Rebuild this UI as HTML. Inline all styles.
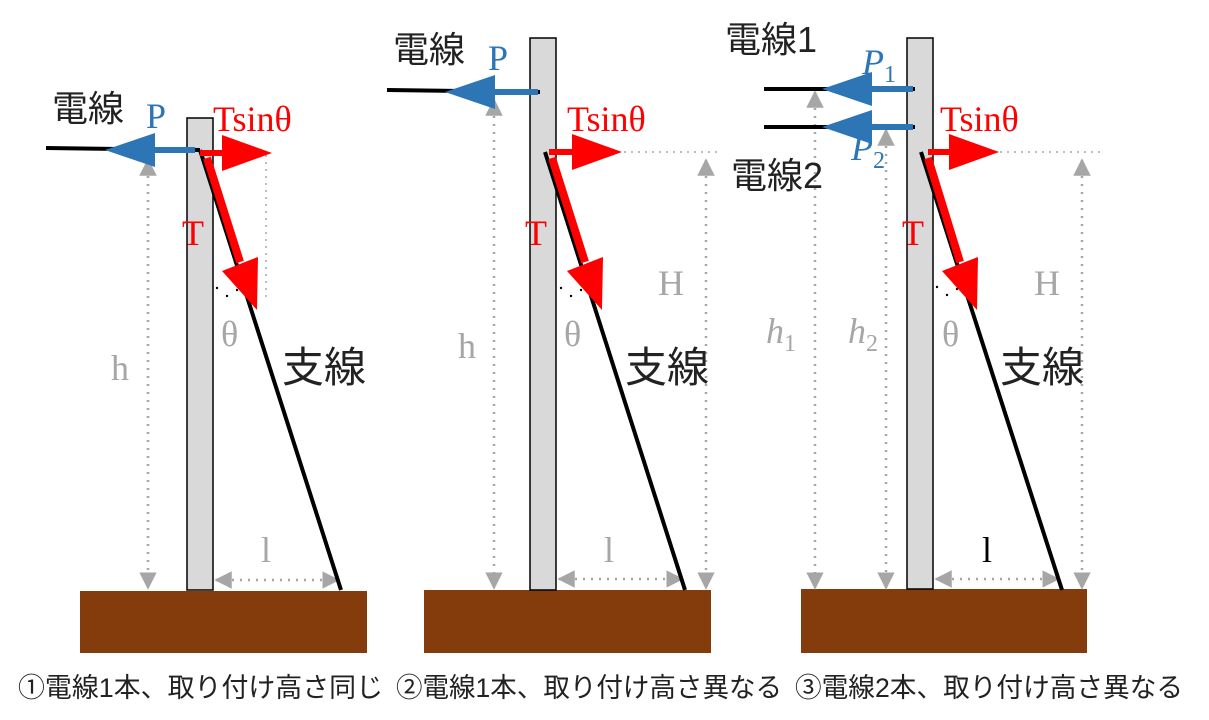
<!DOCTYPE html>
<html><head><meta charset="utf-8"><style>
html,body{margin:0;padding:0;background:#fff}
svg{display:block}
.jp{font-family:"Liberation Sans","Noto Sans CJK JP",sans-serif}
.sr{font-family:"Liberation Serif","Noto Serif CJK SC",serif}
</style></head><body>
<svg width="1209" height="720" viewBox="0 0 1209 720" xmlns="http://www.w3.org/2000/svg">
<defs>
<marker id="ga" viewBox="0 0 10 10" refX="9" refY="5" markerWidth="7" markerHeight="7" orient="auto-start-reverse"><path d="M0,0L10,5L0,10z" fill="#a6a6a6"/></marker>
</defs>
<g fill="#843C0C">
<rect x="80" y="591" width="287" height="62"/>
<rect x="424" y="590" width="287" height="63"/>
<rect x="801" y="589" width="286" height="64"/>
</g>
<g fill="#d9d9d9" stroke="#000" stroke-width="1.5">
<rect x="187" y="118" width="26" height="472"/>
<rect x="530" y="38" width="26" height="552"/>
<rect x="907" y="38" width="26" height="551"/>
</g>
<g stroke="#a6a6a6" stroke-width="2.5" stroke-dasharray="2 6" fill="none" marker-start="url(#ga)" marker-end="url(#ga)">
<line x1="148" y1="160" x2="148" y2="588"/>
<line x1="216" y1="580" x2="338" y2="580"/>
<line x1="494" y1="100" x2="494" y2="588"/>
<line x1="706" y1="160" x2="706" y2="588"/>
<line x1="559" y1="579" x2="682" y2="579"/>
<line x1="815" y1="92" x2="815" y2="588"/>
<line x1="886" y1="130" x2="886" y2="588"/>
<line x1="1082" y1="160" x2="1082" y2="588"/>
<line x1="936" y1="579" x2="1058" y2="579"/>
</g>
<g stroke="#a6a6a6" stroke-width="1.5" stroke-dasharray="2 5">
<line x1="266" y1="155" x2="266" y2="300"/>
<line x1="610" y1="152" x2="720" y2="152"/>
<line x1="1000" y1="152" x2="1100" y2="152"/>
</g>
<g stroke="#000" stroke-width="4">
<line x1="46" y1="148" x2="200" y2="150"/>
<line x1="200" y1="150" x2="341" y2="590"/>
<line x1="387" y1="90" x2="540" y2="92"/>
<line x1="545" y1="152" x2="685" y2="590"/>
<line x1="764" y1="89" x2="915" y2="89"/>
<line x1="764" y1="127" x2="915" y2="127"/>
<line x1="921" y1="152" x2="1062" y2="590"/>
</g>
<g fill="#000"><circle cx="217" cy="288" r="1.2"/><circle cx="227" cy="296" r="1.2"/><circle cx="237" cy="290" r="1.2"/>
<circle cx="561" cy="288" r="1.2"/><circle cx="571" cy="296" r="1.2"/><circle cx="581" cy="290" r="1.2"/>
<circle cx="937" cy="287" r="1.2"/><circle cx="947" cy="295" r="1.2"/><circle cx="957" cy="289" r="1.2"/></g>
<g fill="#2E75B6" stroke="#2E75B6">
<line x1="195" y1="150" x2="150" y2="150" stroke-width="6"/><path d="M155,133L105,150L155,167z" stroke="none"/>
<line x1="538" y1="92" x2="490" y2="92" stroke-width="6"/><path d="M495,75L445,92L495,109z" stroke="none"/>
<line x1="913" y1="89" x2="868" y2="89" stroke-width="6"/><path d="M872,72L822,89L872,106z" stroke="none"/>
<line x1="913" y1="127" x2="868" y2="127" stroke-width="6"/><path d="M872,110L822,127L872,144z" stroke="none"/>
</g>
<g fill="#ff0000" stroke="#ff0000">
<line x1="200" y1="153" x2="225" y2="153" stroke-width="6"/><path d="M222,135L272,153L222,171z" stroke="none"/>
<line x1="207" y1="158" x2="240" y2="262" stroke-width="8"/><path d="M222,271L257,310L258,257z" stroke="none"/>
<line x1="549" y1="152" x2="575" y2="152" stroke-width="6"/><path d="M572,134L622,152L572,170z" stroke="none"/>
<line x1="552" y1="158" x2="585" y2="262" stroke-width="8"/><path d="M567,271L602,310L603,257z" stroke="none"/>
<line x1="928" y1="152" x2="952" y2="152" stroke-width="6"/><path d="M949,134L999,152L949,170z" stroke="none"/>
<line x1="928" y1="158" x2="960" y2="262" stroke-width="8"/><path d="M942,271L977,310L978,257z" stroke="none"/>
</g>
<g class="jp" fill="#222">
<text x="52" y="121" font-size="36">電線</text>
<text x="393" y="62" font-size="36">電線</text>
<text x="725" y="52" font-size="36">電線1</text>
<text x="731" y="188" font-size="36">電線2</text>
<text x="282" y="382" font-size="42">支線</text>
<text x="625" y="382" font-size="42">支線</text>
<text x="1000" y="382" font-size="42">支線</text>
</g>
<g class="sr" font-size="36">
<text x="146" y="128" fill="#2E75B6">P</text>
<text x="488" y="70" fill="#2E75B6">P</text>
<text x="862" y="74" fill="#2E75B6" font-style="italic">P<tspan font-size="24" font-style="normal" dy="8">1</tspan></text>
<text x="851" y="160" fill="#2E75B6" font-style="italic">P<tspan font-size="24" font-style="normal" dy="8">2</tspan></text>
<text x="213" y="131" fill="#ff0000">Tsinθ</text>
<text x="567" y="131" fill="#ff0000">Tsinθ</text>
<text x="940" y="131" fill="#ff0000">Tsinθ</text>
<text x="182" y="245" fill="#ff0000">T</text>
<text x="525" y="245" fill="#ff0000">T</text>
<text x="902" y="245" fill="#ff0000">T</text>
<text x="221" y="346" fill="#a6a6a6">θ</text>
<text x="564" y="346" fill="#a6a6a6">θ</text>
<text x="942" y="346" fill="#a6a6a6">θ</text>
<text x="111" y="380" fill="#a6a6a6">h</text>
<text x="458" y="358" fill="#a6a6a6">h</text>
<text x="658" y="295" fill="#a6a6a6">H</text>
<text x="1034" y="295" fill="#a6a6a6">H</text>
<text x="766" y="343" fill="#a6a6a6" font-style="italic">h<tspan font-size="24" font-style="normal" dy="8">1</tspan></text>
<text x="848" y="343" fill="#a6a6a6" font-style="italic">h<tspan font-size="24" font-style="normal" dy="8">2</tspan></text>
<text x="261" y="562" fill="#a6a6a6">l</text>
<text x="604" y="562" fill="#a6a6a6">l</text>
<text x="982" y="562" fill="#000">l</text>
</g>
<g class="jp" font-size="27" fill="#222">
<text x="18" y="697" textLength="365" lengthAdjust="spacingAndGlyphs">①電線1本、取り付け高さ同じ</text>
<text x="396" y="697" textLength="386" lengthAdjust="spacingAndGlyphs">②電線1本、取り付け高さ異なる</text>
<text x="795" y="697" textLength="388" lengthAdjust="spacingAndGlyphs">③電線2本、取り付け高さ異なる</text>
</g>
</svg>
</body></html>
